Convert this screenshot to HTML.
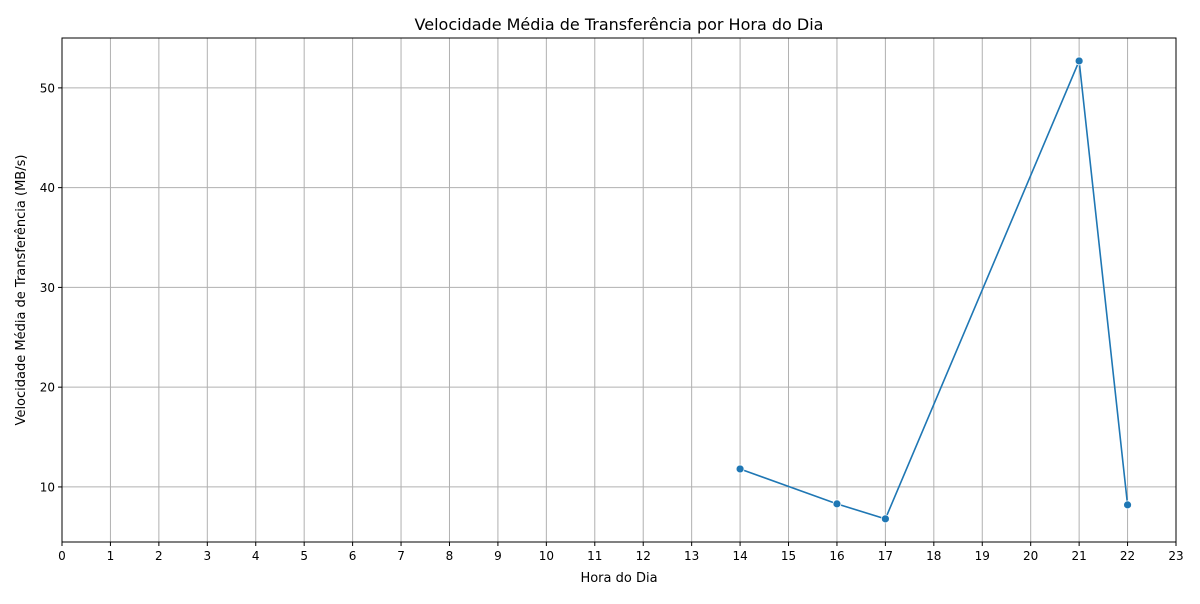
<!DOCTYPE html>
<html><head><meta charset="utf-8"><style>
body{margin:0;background:#fff;font-family:"DejaVu Sans","Liberation Sans",sans-serif;}
</style></head><body>
<svg id="chart" width="1200" height="600" xmlns="http://www.w3.org/2000/svg" font-family="DejaVu Sans, Liberation Sans, sans-serif">
<rect width="1200" height="600" fill="#fff"/>
<text x="619" y="30" text-anchor="middle" font-size="16">Velocidade Média de Transferência por Hora do Dia</text>
<g id="grid"></g>
<g id="xticks"></g>
<g id="yticks"></g>
<rect x="62" y="38" width="1114" height="504" fill="none" stroke="#000" stroke-width="1"/>
<g id="series"></g>
<text x="619" y="582" text-anchor="middle" font-size="13">Hora do Dia</text>
<text transform="translate(25,290) rotate(-90)" text-anchor="middle" font-size="13">Velocidade Média de Transferência (MB/s)</text>
</svg>
<script>
const hours=[14,16,17,21,22];
const speeds=[11.8,8.3,6.8,52.7,8.2];
const xTicks=[0,1,2,3,4,5,6,7,8,9,10,11,12,13,14,15,16,17,18,19,20,21,22,23];
const yTicks=[10,20,30,40,50];
const L=62,R=1176,T=38,B=542,xMin=0,xMax=23,yMin=4.48,yMax=55.0;
const NS="http://www.w3.org/2000/svg";
const xs=v=>L+(v-xMin)/(xMax-xMin)*(R-L);
const ys=v=>B-(v-yMin)/(yMax-yMin)*(B-T);
function mk(tag,attrs,parent){const e=document.createElementNS(NS,tag);for(const k in attrs)e.setAttribute(k,attrs[k]);parent.appendChild(e);return e;}
const grid=document.getElementById('grid'),xg=document.getElementById('xticks'),yg=document.getElementById('yticks'),sg=document.getElementById('series');
xTicks.forEach(t=>{const x=xs(t);
 const g=mk('line',{x1:x,x2:x,y1:T,y2:B,stroke:'#b0b0b0','stroke-width':1},grid);
 
 
 mk('line',{x1:x,x2:x,y1:B,y2:B+4,stroke:'#000'},xg);
 const tx=mk('text',{x:x,y:B+18,'text-anchor':'middle','font-size':12},xg);tx.textContent=t;
 
 
});
yTicks.forEach(t=>{const y=ys(t);
 const g=mk('line',{x1:L,x2:R,y1:y,y2:y,stroke:'#b0b0b0','stroke-width':1},grid);
 
 
 mk('line',{x1:L-4,x2:L,y1:y,y2:y,stroke:'#000'},yg);
 const tx=mk('text',{x:L-7,y:y+4.5,'text-anchor':'end','font-size':12},yg);tx.textContent=t;
 
 
});
const pts=hours.map((h,i)=>xs(h)+','+ys(speeds[i])).join(' ');
const line=mk('polyline',{points:pts,fill:'none',stroke:'#1f77b4','stroke-width':1.6},sg);


hours.forEach((h,i)=>{const c=mk('circle',{cx:xs(h),cy:ys(speeds[i]),r:4,fill:'#1f77b4',stroke:'#fff','stroke-width':0.8},sg);
 
 
});
</script>
</body></html>
